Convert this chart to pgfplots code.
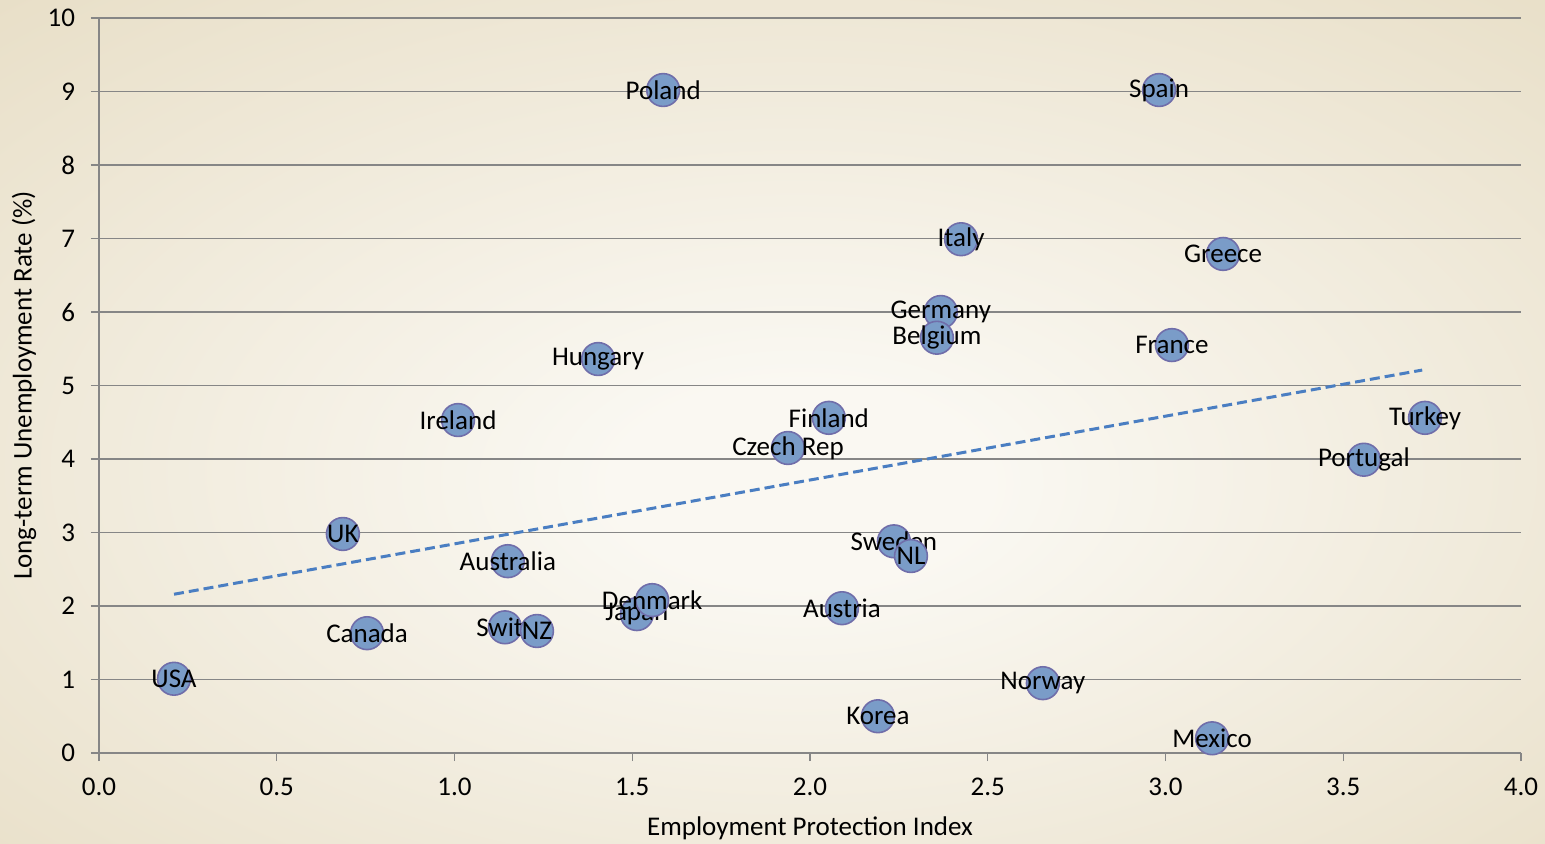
\documentclass[border=0pt]{standalone}
\usepackage{pgfplots}
\usepackage{pgfplotstable}
\pgfplotsset{compat=1.18}
\usepackage{fontspec}
\setmainfont{Carlito}
\definecolor{bgin}{RGB}{250,248,242}
\definecolor{bgout}{RGB}{218,203,166}
\definecolor{gridc}{RGB}{134,134,134}
\definecolor{markfill}{RGB}{122,156,200}
\definecolor{markedge}{RGB}{112,110,170}
\definecolor{trend}{RGB}{74,126,194}
\pgfdeclareradialshading{bgshade}{\pgfpoint{1bp}{-4bp}}{color(0bp)=(bgin); color(6bp)=(bgin); color(62bp)=(bgout); color(75bp)=(bgout)}
\newcommand{\chartfont}{\fontsize{13.5bp}{16bp}\selectfont}
\pgfplotstableread{
x y label
0.211 1.01 USA
0.686 2.98 UK
0.754 1.63 Canada
1.010 4.53 Ireland
1.150 2.61 Australia
1.142 1.71 Switz
1.232 1.66 NZ
1.404 5.36 Hungary
1.587 9.02 Poland
1.513 1.89 Japan
1.556 2.08 Denmark
1.938 4.15 {Czech Rep}
2.053 4.56 Finland
2.090 1.97 Austria
2.191 0.50 Korea
2.236 2.88 Sweden
2.284 2.68 NL
2.368 6.00 Germany
2.357 5.65 Belgium
2.425 6.99 Italy
2.655 0.95 Norway
2.982 9.02 Spain
3.162 6.79 Greece
3.018 5.55 France
3.131 0.20 Mexico
3.558 3.99 Portugal
3.730 4.56 Turkey
}\data
\begin{document}
\begin{tikzpicture}
\shade[shading=bgshade] (-49.5bp,-45.5bp) rectangle (723bp,376.5bp);
\useasboundingbox (-49.5bp,-45.5bp) rectangle (723bp,376.5bp);
\begin{axis}[
  at={(0,0)}, anchor=south west,
  scale only axis, width=711bp, height=367.5bp,
  xmin=0, xmax=4, ymin=0, ymax=10,
  xtick={0,0.5,...,4}, ytick={0,1,...,10},
  xticklabel style={yshift=-5bp, /pgf/number format/.cd, fixed, fixed zerofill, precision=1},
  /pgf/number format/assume math mode=true,
  axis lines=left, axis line style={gridc, line width=0.6bp, -},
  ymajorgrids, grid style={gridc, line width=0.6bp},
  tick align=outside, major tick length=4bp,
  tick style={gridc, line width=0.6bp},
  xtick pos=bottom, ytick pos=left,
  tick label style={font=\chartfont, text=black},
  yticklabel style={xshift=-4.5bp},
  xlabel={Employment Protection Index},
  ylabel={Long-term Unemployment Rate (\%)},
  every axis x label/.style={at={(axis description cs:0.5,0)}, yshift=-37.5bp, anchor=center, font=\chartfont},
  every axis y label/.style={at={(axis description cs:0,0.5)}, xshift=-37.5bp, rotate=90, anchor=center, font=\chartfont},
  clip=false,
]
\addplot[trend, line width=1.5bp, dash pattern=on 5bp off 2.5bp] coordinates {(0.211,2.16) (3.722,5.21)};
\addplot[only marks, mark=*, mark size=8.2bp,
  mark options={fill=markfill, draw=markedge, line width=0.8bp},
  nodes near coords, point meta=explicit symbolic,
  nodes near coords style={anchor=center, font=\chartfont, text=black, inner sep=0pt}]
  table[x=x, y=y, meta=label]{\data};
\end{axis}
\end{tikzpicture}
\end{document}
